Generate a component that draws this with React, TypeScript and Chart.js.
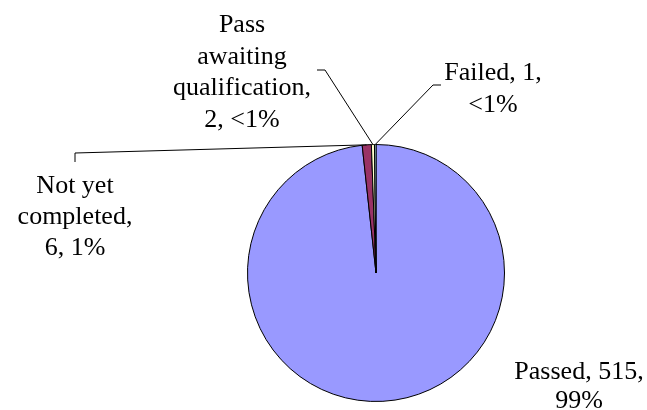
import React, { useEffect, useRef } from "react";
import { Chart, registerables } from "chart.js";

Chart.register(...registerables);

const categories = ["Passed", "Not yet completed", "Pass awaiting qualification", "Failed"];
const counts = [515, 6, 2, 1];
const percentLabels = ["99%", "1%", "<1%", "<1%"];
const sliceColors = ["#9999FF", "#993366", "#FFFFCC", "#CCFFFF"];

// label layout: text centre x, first baseline y, line height, wrap width, leader elbow + end
const labelLayout = [
  { x: 579, y: 379, lh: 29, wrap: 135, leader: null },
  { x: 75, y: 193, lh: 31, wrap: 120, leader: { ex: 75, ey: 153, tx: 75, ty: 162 } },
  { x: 242, y: 32, lh: 31.5, wrap: 139, leader: { ex: 325, ey: 70, tx: 317, ty: 70 } },
  { x: 493, y: 80, lh: 32, wrap: 110, leader: { ex: 433, ey: 85, tx: 441, ty: 85 } },
];

const FONT = "26px 'Liberation Serif', 'Times New Roman', serif";

function wrapText(ctx: CanvasRenderingContext2D, text: string, maxW: number): string[] {
  const words = text.split(" ");
  const lines: string[] = [];
  let cur = "";
  for (const w of words) {
    const test = cur ? cur + " " + w : w;
    if (cur && ctx.measureText(test).width > maxW) {
      lines.push(cur);
      cur = w;
    } else cur = test;
  }
  if (cur) lines.push(cur);
  return lines;
}

const labelPlugin = {
  id: "pieLabels",
  afterDraw(chart: any) {
    const ctx = chart.ctx as CanvasRenderingContext2D;
    const meta = chart.getDatasetMeta(0);
    ctx.save();
    ctx.font = FONT;
    ctx.fillStyle = "#000";
    ctx.textAlign = "center";
    ctx.textBaseline = "alphabetic";
    meta.data.forEach((arc: any, i: number) => {
      const lay = labelLayout[i];
      const text = `${categories[i]}, ${counts[i]}, ${percentLabels[i]}`;
      const lines = wrapText(ctx, text, lay.wrap);
      lines.forEach((ln, k) => ctx.fillText(ln, lay.x, lay.y + k * lay.lh));
      if (lay.leader) {
        const p = arc.getProps(["x", "y", "startAngle", "endAngle", "outerRadius"], true);
        const mid = (p.startAngle + p.endAngle) / 2;
        const sx = p.x + Math.cos(mid) * p.outerRadius;
        const sy = p.y + Math.sin(mid) * p.outerRadius;
        ctx.beginPath();
        ctx.strokeStyle = "#000";
        ctx.lineWidth = 1;
        ctx.moveTo(sx, sy);
        ctx.lineTo(lay.leader.ex, lay.leader.ey);
        ctx.lineTo(lay.leader.tx, lay.leader.ty);
        ctx.stroke();
      }
    });
    ctx.restore();
  },
};

export default function App() {
  const ref = useRef<HTMLCanvasElement | null>(null);
  useEffect(() => {
    document.body.style.margin = "0";
    const chart = new Chart(ref.current!, {
      type: "pie",
      data: {
        labels: categories,
        datasets: [
          {
            data: counts,
            backgroundColor: sliceColors,
            borderColor: "#000",
            borderWidth: 1,
          },
        ],
      },
      options: {
        responsive: false,
        animation: false,
        layout: { padding: { left: 247, right: 142, top: 144, bottom: 8 } },
        plugins: {
          legend: { display: false },
          tooltip: { enabled: false },
        },
      },
      plugins: [labelPlugin],
    });
    if ((document as any).fonts) {
      (document as any).fonts.load(FONT).then(() => chart.draw()).catch(() => {});
    }
    return () => chart.destroy();
  }, []);
  return <canvas ref={ref} width={647} height={410} style={{ display: "block" }} />;
}
